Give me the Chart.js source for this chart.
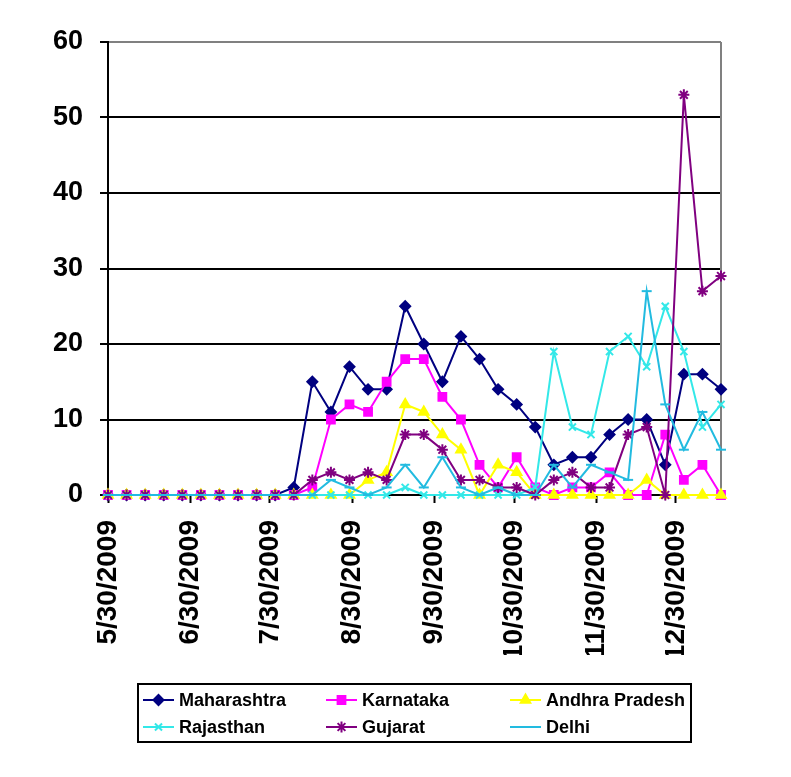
<!doctype html>
<html>
  <head>
    <title>Weekly cases by state 2009</title>
    <script src="https://cdn.jsdelivr.net/npm/chart.js@4.4.0/dist/chart.umd.min.js"></script>
    <style>
        * { margin: 0; padding: 0; box-sizing: border-box; }
        body { background: #fff; }
        #wrap { width: 791px; height: 777px; position: relative; }
    </style>
  </head>
  <body>
    <div id="wrap"><canvas id="myCanvas"></canvas></div>
    <script>
    // days after 5/30/2009 (one point per week)
    const days = [0,7,14,21,28,35,42,49,56,63,70,77,84,91,98,105,112,119,126,133,140,147,154,161,168,175,182,189,196,203,210,217,224,231];

    const tickDays = [0,31,61,92,123,153,184,214];
    const tickLabels = ['5/30/2009','6/30/2009','7/30/2009','8/30/2009','9/30/2009','10/30/2009','11/30/2009','12/30/2009'];

    const maharashtra = [0,0,0,0,0,0,0,0,0,0,1,15,11,17,14,14,25,20,15,21,18,14,12,9,4,5,5,8,10,10,4,16,16,14];
    const karnataka   = [0,0,0,0,0,0,0,0,0,0,0,1,10,12,11,15,18,18,13,10,4,1,5,1,0,1,1,3,0,0,8,2,4,0];
    const andhra      = [0,0,0,0,0,0,0,0,0,0,0,0,0,0,2,3,12,11,8,6,0,4,3,0,0,0,0,0,0,2,0,0,0,0];
    const rajasthan   = [0,0,0,0,0,0,0,0,0,0,0,0,0,0,0,0,1,0,0,0,0,0,0,1,19,9,8,19,21,17,25,19,9,12];
    const gujarat     = [0,0,0,0,0,0,0,0,0,0,0,2,3,2,3,2,8,8,6,2,2,1,1,0,2,3,1,1,8,9,0,53,27,29];
    const delhi       = [0,0,0,0,0,0,0,0,0,0,0,0,2,1,0,1,4,1,5,1,0,1,0,0,4,1,4,3,2,27,12,6,11,6];

    function pts(vals) {
        return vals.map((v, i) => ({x: days[i], y: v}));
    }

    function series(label, vals, color, style, r, order) {
        return {
            label: label,
            data: pts(vals),
            borderColor: color,
            backgroundColor: color,
            pointBackgroundColor: color,
            pointBorderColor: color,
            borderWidth: 2,
            pointStyle: style,
            pointRadius: r,
            pointBorderWidth: 2,
            tension: 0,
            clip: false,
            order: order
        };
    }

    // box legend like the spreadsheet one, 3 columns x 2 rows
    const boxLegend = {
        id: 'boxLegend',
        afterDraw(chart) {
            const c = chart.ctx;
            c.save();
            c.strokeStyle = '#000';
            c.lineWidth = 2;
            c.strokeRect(138, 684, 553, 58);
            const cols = [143, 326, 510];
            const rows = [700, 727];
            c.font = 'bold 18px "Liberation Sans", Arial, sans-serif';
            c.textBaseline = 'middle';
            chart.data.datasets.forEach((ds, i) => {
                const x = cols[i % 3], y = rows[Math.floor(i / 3)];
                c.strokeStyle = ds.borderColor;
                c.fillStyle = ds.borderColor;
                c.lineWidth = 2;
                c.beginPath();
                c.moveTo(x, y);
                c.lineTo(x + 31, y);
                c.stroke();
                Chart.helpers.drawPoint(c, {pointStyle: ds.pointStyle, radius: ds.pointRadius, borderWidth: 2, rotation: 0}, x + 15.5, y);
                c.fillStyle = '#000';
                c.fillText(ds.label, x + 36, y + 1);
            });
            c.restore();
        }
    };

    // grey plot-area edge on the right
    const rightEdge = {
        id: 'rightEdge',
        beforeDatasetsDraw(chart) {
            const a = chart.chartArea, c = chart.ctx;
            c.save();
            c.strokeStyle = '#808080';
            c.lineWidth = 2;
            c.beginPath();
            c.moveTo(a.right, a.top);
            c.lineTo(a.right, a.bottom);
            c.stroke();
            c.restore();
        }
    };

    var ctx = document.getElementById('myCanvas').getContext('2d');
    var myChart = new Chart(ctx, {
        type: 'line',
        data: {
            datasets: [
                series('Maharashtra', maharashtra, '#000080', 'rectRot', 5, 6),
                series('Karnataka', karnataka, '#FF00FF', 'rect', 5.5, 5),
                series('Andhra Pradesh', andhra, '#FFFF00', 'triangle', 5.5, 4),
                series('Rajasthan', rajasthan, '#33E8E8', 'crossRot', 5, 3),
                series('Gujarat', gujarat, '#800080', 'star', 5.5, 2),
                series('Delhi', delhi, '#22BBE0', 'line', 5, 1)
            ]
        },
        options: {
            responsive: true,
            maintainAspectRatio: false,
            animation: false,
            layout: { padding: { top: 42, right: 70, bottom: 122, left: 0 } },
            plugins: {
                legend: { display: false },
                tooltip: { enabled: false }
            },
            scales: {
                x: {
                    type: 'linear',
                    min: 0,
                    max: 231,
                    afterBuildTicks: (axis) => { axis.ticks = tickDays.map(v => ({value: v})); },
                    afterFit: (scale) => { scale.height = 160; },
                    grid: {
                        drawOnChartArea: false,
                        drawTicks: true,
                        tickLength: 8,
                        tickColor: '#000',
                        tickWidth: 2
                    },
                    border: { display: true, color: '#000', width: 2 },
                    ticks: {
                        autoSkip: false,
                        maxRotation: 90,
                        minRotation: 90,
                        padding: 17,
                        color: '#000',
                        font: { family: '"Liberation Sans", Arial, sans-serif', size: 28, weight: 'bold' },
                        callback: (v) => tickLabels[tickDays.indexOf(v)]
                    }
                },
                y: {
                    min: 0,
                    max: 60,
                    afterFit: (scale) => { scale.width = 108; },
                    grid: {
                        color: (c) => c.tick && c.tick.value === 60 ? '#808080' : '#000',
                        lineWidth: 2,
                        drawTicks: true,
                        tickLength: 8,
                        tickColor: '#000',
                        tickWidth: 2
                    },
                    border: { display: true, color: '#000', width: 2 },
                    ticks: {
                        stepSize: 10,
                        padding: 17,
                        color: '#000',
                        font: { family: '"Liberation Sans", Arial, sans-serif', size: 27, weight: 'bold' }
                    }
                }
            }
        },
        plugins: [rightEdge, boxLegend]
    });
    </script>
  </body>
</html>
